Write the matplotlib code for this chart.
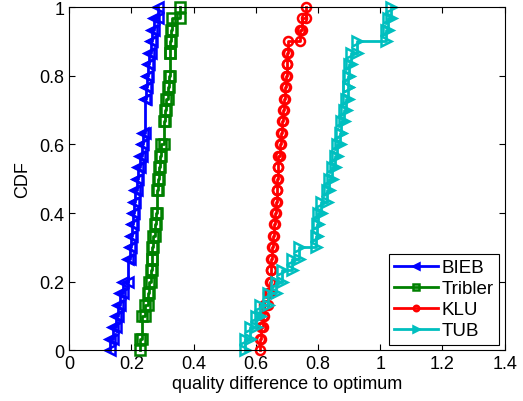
import numpy as np
import matplotlib
matplotlib.use("Agg")
import matplotlib.pyplot as plt
from matplotlib.ticker import FormatStrFormatter

plt.rcParams["font.family"] = ["Liberation Sans", "DejaVu Sans"]

# samples per system (30 runs each)
bieb = [0.131, 0.140, 0.150, 0.158, 0.165, 0.175, 0.190, 0.190, 0.195, 0.200,
        0.203, 0.206, 0.209, 0.212, 0.217, 0.222, 0.227, 0.233, 0.238, 0.243,
        0.243, 0.243, 0.247, 0.250, 0.254, 0.258, 0.262, 0.266, 0.272, 0.286]
tribler = [0.227, 0.233, 0.233, 0.243, 0.254, 0.257, 0.262, 0.265, 0.268, 0.271,
           0.276, 0.279, 0.283, 0.283, 0.286, 0.289, 0.292, 0.297, 0.305, 0.305,
           0.308, 0.311, 0.318, 0.322, 0.324, 0.324, 0.326, 0.329, 0.331, 0.356]
klu = [0.613, 0.618, 0.622, 0.628, 0.638, 0.645, 0.648, 0.650, 0.652, 0.655,
       0.658, 0.662, 0.665, 0.667, 0.668, 0.670, 0.673, 0.677, 0.680, 0.685,
       0.688, 0.690, 0.693, 0.697, 0.700, 0.702, 0.704, 0.742, 0.748, 0.763]
tub = [0.565, 0.580, 0.600, 0.615, 0.640, 0.665, 0.685, 0.715, 0.740, 0.795,
       0.797, 0.800, 0.810, 0.830, 0.835, 0.845, 0.855, 0.862, 0.870, 0.875,
       0.885, 0.890, 0.895, 0.898, 0.900, 0.905, 0.925, 1.020, 1.025, 1.035]

names = ["BIEB", "Tribler", "KLU", "TUB"]
colors = ["#0000ff", "#008000", "#ff0000", "#00bfbf"]
markers = ["<", "s", "o", ">"]


def stairs(samples):
    u, c = np.unique(np.sort(samples), return_counts=True)
    F = np.cumsum(c) / len(samples)
    xs, ys = [u[0]], [0.0]
    for i in range(len(u)):
        if i > 0:
            xs.append(u[i])
            ys.append(F[i - 1])
        xs.append(u[i])
        ys.append(F[i])
    return np.array(xs), np.array(ys)


fig = plt.figure(figsize=(5.23, 4.02), dpi=100)
ax = fig.add_axes([0.132, 0.126, 0.833, 0.854])

for data, name, col, m in zip([bieb, tribler, klu, tub], names, colors, markers):
    xs, ys = stairs(data)
    ax.plot(xs, ys, color=col, lw=2, marker=m, ms=6.5, mfc="none", mec=col,
            mew=1.8, label=name, clip_on=False)

ax.set_xlim(0, 1.4)
ax.set_ylim(0, 1)
ax.set_xticks(np.arange(0, 1.41, 0.2))
ax.set_yticks(np.arange(0, 1.01, 0.2))
ax.xaxis.set_major_formatter(FormatStrFormatter("%g"))
ax.yaxis.set_major_formatter(FormatStrFormatter("%g"))
ax.tick_params(direction="in", top=True, right=True, length=4, labelsize=13)
ax.set_xlabel("quality difference to optimum", fontsize=13, labelpad=2)
ax.set_ylabel("CDF", fontsize=13, labelpad=6)

leg = ax.legend(loc="lower right", fontsize=13.5, fancybox=False, framealpha=1,
                edgecolor="black", markerscale=0.6, handlelength=2.3,
                handletextpad=0.2, borderaxespad=0.3, labelspacing=0.2,
                borderpad=0.3)
leg.get_frame().set_linewidth(0.8)

fig.savefig("out.png", dpi=100)
